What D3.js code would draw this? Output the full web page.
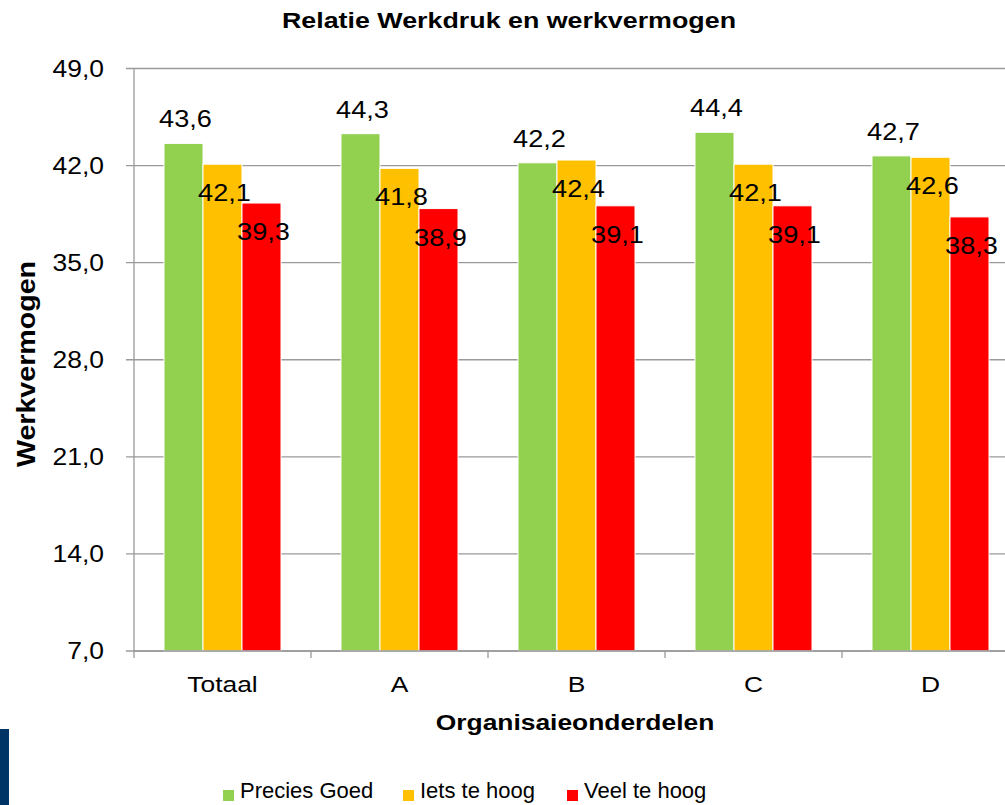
<!DOCTYPE html>
<html>
<head>
<meta charset="utf-8">
<script src="https://cdn.jsdelivr.net/npm/d3@7"></script>
<style>
  body { margin: 0; background: #fff; }
  text { font-family: "Liberation Sans", Arial, sans-serif; fill: #000; }
</style>
</head>
<body>
<div id="chart"></div>
<script>
// data
var categories = ["Totaal", "A", "B", "C", "D"];
var seriesNames = ["Precies Goed", "Iets te hoog", "Veel te hoog"];
var preciesGoed = [43.6, 44.3, 42.2, 44.4, 42.7];
var ietsTeHoog = [42.1, 41.8, 42.4, 42.1, 42.6];
var veelTeHoog = [39.3, 38.9, 39.1, 39.1, 38.3];
var yTicks = [7, 14, 21, 28, 35, 42, 49];

var colors = ["#92D050", "#FFC000", "#FF0000"];
var labelOffset = [-16, 37, 37];   // label baseline relative to bar top

var W = 1005, H = 805;
var plotLeft = 134, plotTop = 68.5, plotBottom = 651, plotRight = 1019;

var svg = d3.select("#chart").append("svg")
    .attr("width", W).attr("height", H);

var table = categories.map(function (c, i) {
    return { cat: c, vals: [preciesGoed[i], ietsTeHoog[i], veelTeHoog[i]] };
});

var x0 = d3.scaleBand()
    .domain(categories)
    .range([plotLeft, plotRight])
    .paddingInner(60 / 177)
    .paddingOuter(30 / 177);
var x1 = d3.scaleBand()
    .domain(d3.range(seriesNames.length))
    .range([0, x0.bandwidth()]);
var y = d3.scaleLinear().domain([7, 49]).range([plotBottom, plotTop]);

// text in the original is drawn wide, so stretch along the baseline
function wideText(sel, x, yy, rot, sx) {
    sx = sx || 1.2;
    return sel.attr("transform", "translate(" + x + "," + yy + ")" + (rot ? " rotate(" + rot + ")" : "") + " scale(" + sx + ",1)");
}

// gridlines
svg.append("g").selectAll("line")
    .data(yTicks)
    .join("line")
    .attr("x1", plotLeft - 8).attr("x2", W)
    .attr("y1", function (d) { return y(d); })
    .attr("y2", function (d) { return y(d); })
    .attr("stroke", "#9a9a9a").attr("stroke-width", 1.3);

// y tick labels
svg.append("g").selectAll("text")
    .data(yTicks)
    .join("text")
    .attr("text-anchor", "end")
    .attr("dy", "0.35em")
    .style("font-size", "23px")
    .each(function (d) { wideText(d3.select(this), 104, y(d), 0, 1.15); })
    .text(function (d) { return d.toFixed(1).replace(".", ","); });

// bars
var groups = svg.append("g").selectAll("g")
    .data(table)
    .join("g")
    .attr("transform", function (d) { return "translate(" + x0(d.cat) + ",0)"; });

groups.selectAll("rect")
    .data(function (d) { return d.vals; })
    .join("rect")
    .attr("x", function (d, i) { return x1(i); })
    .attr("y", function (d) { return y(d); })
    .attr("width", x1.bandwidth())
    .attr("height", function (d) { return plotBottom - y(d); })
    .attr("fill", function (d, i) { return colors[i]; })
    .attr("stroke", "#fff").attr("stroke-width", 1);

// axes lines and category ticks
svg.append("line")
    .attr("x1", plotLeft).attr("x2", W)
    .attr("y1", plotBottom).attr("y2", plotBottom)
    .attr("stroke", "#9a9a9a").attr("stroke-width", 1.3);
svg.append("line")
    .attr("x1", plotLeft).attr("x2", plotLeft)
    .attr("y1", plotTop).attr("y2", plotBottom + 7)
    .attr("stroke", "#9a9a9a").attr("stroke-width", 1.3);
svg.append("g").selectAll("line")
    .data(categories.slice(1))
    .join("line")
    .attr("x1", function (d) { return x0(d) - x0.step() * x0.paddingInner() / 2; })
    .attr("x2", function (d) { return x0(d) - x0.step() * x0.paddingInner() / 2; })
    .attr("y1", plotBottom).attr("y2", plotBottom + 7)
    .attr("stroke", "#9a9a9a").attr("stroke-width", 1.3);

// data labels
groups.selectAll("text")
    .data(function (d) { return d.vals; })
    .join("text")
    .attr("text-anchor", "middle")
    .style("font-size", "23px")
    .each(function (d, i) {
        wideText(d3.select(this), x1(i) + x1.bandwidth() / 2 + 2, y(d) + labelOffset[i], 0, 1.18);
    })
    .text(function (d) { return d.toFixed(1).replace(".", ","); });

// category labels
svg.append("g").selectAll("text")
    .data(categories)
    .join("text")
    .attr("text-anchor", "middle")
    .style("font-size", "22px")
    .each(function (d) { wideText(d3.select(this), x0(d) + x0.bandwidth() / 2, 692); })
    .text(function (d) { return d; });

// titles
wideText(svg.append("text"), 509, 28, 0, 1.22)
    .attr("text-anchor", "middle")
    .style("font-size", "22px").style("font-weight", "bold")
    .text("Relatie Werkdruk en werkvermogen");
wideText(svg.append("text"), 575, 730)
    .attr("text-anchor", "middle")
    .style("font-size", "22px").style("font-weight", "bold")
    .text("Organisaieonderdelen");
wideText(svg.append("text"), 35, 364, -90, 1.1)
    .attr("text-anchor", "middle")
    .style("font-size", "26px").style("font-weight", "bold")
    .text("Werkvermogen");

// blue block bottom-left
svg.append("rect")
    .attr("x", 0).attr("y", 729).attr("width", 9).attr("height", 76)
    .attr("fill", "#003366");

// legend
var legendX = [223, 403, 567];
var legend = svg.append("g").selectAll("g")
    .data(seriesNames)
    .join("g")
    .attr("transform", function (d, i) { return "translate(" + legendX[i] + ",790)"; });
legend.append("rect")
    .attr("width", 11).attr("height", 11)
    .attr("fill", function (d, i) { return colors[i]; });
legend.append("text")
    .attr("x", 17).attr("y", 8)
    .style("font-size", "22px")
    .text(function (d) { return d; });
</script>
</body>
</html>
